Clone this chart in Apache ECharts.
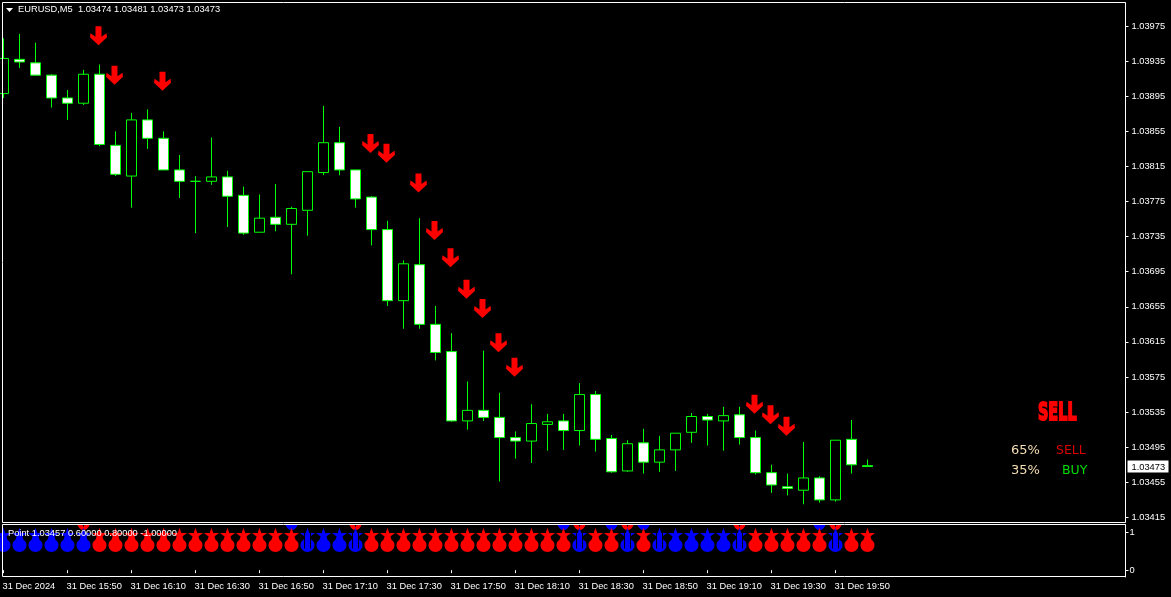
<!DOCTYPE html>
<html><head><meta charset="utf-8">
<style>html,body{margin:0;padding:0;background:#000}#c{width:1171px;height:597px}</style>
<script src="https://cdn.jsdelivr.net/npm/echarts@6/dist/echarts.min.js"></script>
</head><body><div id="c"></div>
<script>
const tickLabels = ['31 Dec 2024','31 Dec 15:50','31 Dec 16:10','31 Dec 16:30','31 Dec 16:50','31 Dec 17:10','31 Dec 17:30','31 Dec 17:50','31 Dec 18:10','31 Dec 18:30','31 Dec 18:50','31 Dec 19:10','31 Dec 19:30','31 Dec 19:50'];
const priceTicks = [1.03415,1.03455,1.03495,1.03535,1.03575,1.03615,1.03655,1.03695,1.03735,1.03775,1.03815,1.03855,1.03895,1.03935,1.03975];
const lastPrice = 1.03473;
const opens  = [1.03898,1.03937,1.03933,1.03919,1.03893,1.03887,1.03920,1.03839,1.03804,1.03868,1.03847,1.03811,1.03798,1.03798,1.03803,1.03782,1.03740,1.03757,1.03749,1.03765,1.03808,1.03842,1.03811,1.03780,1.03743,1.03662,1.03703,1.03635,1.03604,1.03525,1.03537,1.03529,1.03506,1.03502,1.03521,1.03525,1.03514,1.03555,1.03505,1.03468,1.03500,1.03478,1.03492,1.03512,1.03530,1.03525,1.03532,1.03506,1.03466,1.03450,1.03446,1.03460,1.03435,1.03504,1.03474];
const closes = [1.03938,1.03934,1.03919,1.03893,1.03887,1.03920,1.03840,1.03806,1.03868,1.03847,1.03811,1.03798,1.03798,1.03803,1.03781,1.03739,1.03756,1.03749,1.03767,1.03809,1.03842,1.03811,1.03778,1.03743,1.03662,1.03704,1.03635,1.03603,1.03525,1.03537,1.03529,1.03506,1.03502,1.03522,1.03524,1.03514,1.03555,1.03504,1.03467,1.03499,1.03478,1.03492,1.03511,1.03530,1.03526,1.03531,1.03506,1.03466,1.03452,1.03448,1.03460,1.03435,1.03503,1.03475,1.03473];
const lows   = [1.03893,1.03927,1.03919,1.03882,1.03868,1.03885,1.03838,1.03804,1.03768,1.03835,1.03811,1.03779,1.03739,1.03794,1.03746,1.03737,1.03740,1.03741,1.03692,1.03736,1.03805,1.03805,1.03768,1.03725,1.03656,1.03630,1.03630,1.03594,1.03524,1.03515,1.03525,1.03456,1.03482,1.03477,1.03491,1.03492,1.03497,1.03490,1.03466,1.03467,1.03465,1.03467,1.03468,1.03500,1.03497,1.03491,1.03498,1.03464,1.03443,1.03440,1.03430,1.03432,1.03433,1.03465,1.03473];
const highs  = [1.03961,1.03966,1.03956,1.03920,1.03902,1.03925,1.03931,1.03855,1.03876,1.03880,1.03855,1.03828,1.03804,1.03848,1.03810,1.03792,1.03783,1.03795,1.03769,1.03809,1.03884,1.03860,1.03811,1.03781,1.03753,1.03708,1.03756,1.03656,1.03625,1.03570,1.03605,1.03557,1.03513,1.03544,1.03533,1.03533,1.03568,1.03559,1.03509,1.03503,1.03516,1.03508,1.03511,1.03534,1.03533,1.03541,1.03541,1.03514,1.03475,1.03465,1.03501,1.03462,1.03503,1.03526,1.03481];
const arrowBars   = [6,7,10,23,24,26,27,28,29,30,31,32,47,48,49];
const arrowPrices = [1.03964,1.03919,1.03912,1.03841,1.03830,1.03796,1.03742,1.03711,1.03675,1.03653,1.03614,1.03586,1.03544,1.03532,1.03519];
const blueBars = [0,1,2,3,4,5,19,20,21,22,36,39,41,42,43,44,45,46,52];
const redBars  = [6,7,8,9,10,11,12,13,14,15,16,17,18,23,24,25,26,27,28,29,30,31,32,33,34,35,37,38,40,47,48,49,50,51,53,54];
const topBlueBars = [18,35,38,40,51];
const topRedBars  = [5,22,36,39,46,52];
const markedBars  = [19,22,36,39,41,46,52];
const dropLevel = 0.6, starLevel = 0.8, topLevel = 1.18;

const categories = [];
for (let i = 0; i <= 70; i++) categories.push(i % 4 === 0 && tickLabels[i / 4] ? tickLabels[i / 4] : '');
const candles = opens.map((o, i) => [o, closes[i], lows[i], highs[i]]);
const FONT = '"Liberation Sans"';
const ARROW = 'path://M5.5,0 L11.5,0 L11.5,10.5 L16.5,7 L17,11 L8.5,19 L0,11 L0.5,7 L5.5,10.5 Z';
const DROP = 'path://M6.5,0 C7,5 9,5.5 10.5,7 C12,8 13,9.7 13,12 C13,15.5 10.1,18.5 6.5,18.5 C2.9,18.5 0,15.5 0,12 C0,9.7 1,8 2.5,7 C4,5.5 6,5 6.5,0 Z';
const STAR = 'path://M7.5,0 L9.3,5.3 L15,5.3 L10.4,8.7 L12.1,14 L7.5,10.7 L2.9,14 L4.6,8.7 L0,5.3 L5.7,5.3 Z';
const MARK = 'path://M0,0 h1 v16 h-1 Z M6,0 h1 v16 h-1 Z';
const CAP = 'path://M0,0 L12,0 C11,3 8.5,5 6,5 C3.5,5 1,3 0,0 Z';
const CAP_NOTCH = 'path://M0,0 L5,0 L6,2 L7,0 L12,0 C11,3 8.5,5 6,5 C3.5,5 1,3 0,0 Z';
const hasLabel = (i, v) => v !== '';

function marks(bars, level, symbol, size, offset, color, z) {
  return { type:'scatter', xAxisIndex:1, yAxisIndex:1, silent:true, z,
    data: bars.map(i => [i, level]), symbol, symbolSize:size, symbolOffset:offset,
    itemStyle:{ color, opacity:1 } };
}

const chart = echarts.init(document.getElementById('c'), null, { renderer:'canvas' });
chart.setOption({
  animation:false, backgroundColor:'#000',
  grid:[
    { left:3.5, top:3, width:1120, height:519, outerBoundsMode:'none' },
    { left:3.5, top:525, width:1120, height:52, outerBoundsMode:'none' }
  ],
  xAxis:[
    { type:'category', gridIndex:0, data:categories, boundaryGap:false, show:false },
    { type:'category', gridIndex:1, data:categories, boundaryGap:false,
      axisLine:{show:false},
      axisTick:{show:true, interval:hasLabel, length:3, lineStyle:{color:'#fff',width:1}},
      axisLabel:{show:true, interval:hasLabel, color:'#fff', fontFamily:FONT, fontSize:9.3, align:'left', margin:5, padding:[0,0,0,-1]},
      splitLine:{show:false} }
  ],
  yAxis:[
    { type:'value', gridIndex:0, position:'right', offset:2, min:1.034098, max:1.040012, scale:true,
      splitLine:{show:false},
      axisLine:{show:true, lineStyle:{color:'#fff'}},
      axisTick:{show:true, length:3, customValues:priceTicks, lineStyle:{color:'#fff'}},
      axisLabel:{show:true, color:'#fff', fontFamily:FONT, fontSize:9.3, margin:2, hideOverlap:false,
        customValues:priceTicks.concat([lastPrice]),
        formatter:v => Math.abs(v-lastPrice)<1e-7 ? '{tag|'+v.toFixed(5)+'}' : '{t|'+v.toFixed(5)+'}',
        rich:{
          t:{color:'#fff', fontFamily:FONT, fontSize:9.3, padding:[0,0,0,4]},
          tag:{backgroundColor:'#fff', color:'#000', fontFamily:FONT, fontSize:9.3, padding:[2,4,1,4], width:33, lineHeight:10}
        }} },
    { type:'value', gridIndex:1, position:'right', offset:2, min:-0.18, max:1.19,
      splitLine:{show:false},
      axisLine:{show:true, lineStyle:{color:'#fff'}},
      axisTick:{show:true, length:3, customValues:[0,1], lineStyle:{color:'#fff'}},
      axisLabel:{show:true, color:'#fff', fontFamily:FONT, fontSize:9.3, margin:4, customValues:[0,1], formatter:v => String(v)} }
  ],
  series:[
    { type:'candlestick', xAxisIndex:0, yAxisIndex:0, data:candles, barWidth:10, clip:true, silent:true,
      itemStyle:{ color:'#000', color0:'#fff', borderColor:'#00ff00', borderColor0:'#00ff00', borderColorDoji:'#00ff00', borderWidth:1 } },
    { type:'scatter', xAxisIndex:0, yAxisIndex:0, silent:true, z:5,
      data:arrowBars.map((b,i)=>[b,arrowPrices[i]]), symbol:ARROW, symbolSize:[17,19], symbolOffset:[-1,0],
      itemStyle:{color:'#ff0000',opacity:1} },
    marks(topBlueBars, topLevel, CAP, [12,5], [0,2], '#0000ff', 3),
    marks(topRedBars, topLevel, CAP_NOTCH, [12,5], [0,2], '#ff0000', 3),
    marks(blueBars, dropLevel, DROP, [14,19], [0,-5], '#0000ff', 4),
    marks(redBars, dropLevel, DROP, [14,19], [0,-5], '#ff0000', 4),
    marks(blueBars, starLevel, STAR, [15,14], [0,-5], '#0000ff', 4),
    marks(redBars, starLevel, STAR, [15,14], [0,-5], '#ff0000', 4),
    marks(markedBars, dropLevel, MARK, [7,16], [0,-7], '#000010', 5)
  ],
  graphic:[
    { type:'rect', silent:true, z:20, shape:{x:2.5,y:2.5,width:1123,height:520}, style:{fill:null,stroke:'#fff',lineWidth:1} },
    { type:'rect', silent:true, z:20, shape:{x:2.5,y:524.5,width:1123,height:52}, style:{fill:null,stroke:'#fff',lineWidth:1} },
    { type:'polygon', silent:true, z:21, shape:{points:[[6,8],[13,8],[9.5,12]]}, style:{fill:'#fff'} },
    { type:'text', silent:true, z:21, x:18, y:5, style:{text:'EURUSD,M5  1.03474 1.03481 1.03473 1.03473', fill:'#fff', font:'9.3px '+FONT} },
    { type:'text', silent:true, z:21, x:8, y:529, style:{text:'Point 1.03457 0.60000 0.80000 -1.00000', fill:'#fff', font:'9.3px '+FONT} },
    { type:'text', silent:true, z:21, x:1038, y:402, scaleX:0.6, style:{text:'SELL', fill:'#ff0000', stroke:'#ff0000', lineWidth:2, font:'bold 24px "DejaVu Sans"'} },
    { type:'text', silent:true, z:21, x:1011, y:444, style:{text:'65%', fill:'#f5deb3', font:'13px "DejaVu Sans"'} },
    { type:'text', silent:true, z:21, x:1056, y:444, style:{text:'SELL', fill:'#dc0000', font:'12.5px "DejaVu Sans"'} },
    { type:'text', silent:true, z:21, x:1011, y:464, style:{text:'35%', fill:'#f5deb3', font:'13px "DejaVu Sans"'} },
    { type:'text', silent:true, z:21, x:1062, y:464, style:{text:'BUY', fill:'#00e000', font:'12.5px "DejaVu Sans"'} }
  ]
});
</script></body></html>
